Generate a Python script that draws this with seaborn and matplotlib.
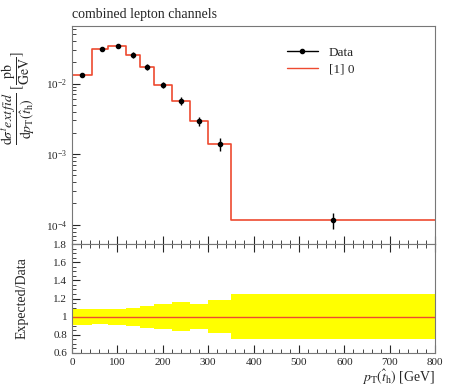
import numpy as np
import matplotlib
matplotlib.use("Agg")
import matplotlib.pyplot as plt
import seaborn as sns
from matplotlib.ticker import MultipleLocator, FixedLocator, LogLocator, NullFormatter

edges = [0, 45, 80, 120, 150, 180, 220, 260, 300, 350, 800]
centers = [22.5, 65, 102, 135, 165, 200, 240, 280, 325, 575]
data_vals = [0.0133, 0.0305, 0.0340, 0.0255, 0.0172, 0.0095, 0.0057, 0.0029, 0.00140, 0.000118]
data_err = [0.0009, 0.0020, 0.0024, 0.0022, 0.0018, 0.0010, 0.0007, 0.0004, 0.00028, 0.000030]
mc_vals = [0.0133, 0.0305, 0.0340, 0.0255, 0.0172, 0.0095, 0.0057, 0.0029, 0.00140, 0.000118]
band_up = [1.09, 1.08, 1.09, 1.10, 1.12, 1.135, 1.16, 1.14, 1.185, 1.245]
band_dn = [0.91, 0.92, 0.91, 0.895, 0.875, 0.865, 0.845, 0.86, 0.815, 0.755]

sns.set_style("ticks")
plt.rcParams["font.family"] = ["Liberation Serif", "DejaVu Serif"]
plt.rcParams["mathtext.fontset"] = "stix"

fig = plt.figure(figsize=(4.5, 3.9), dpi=100)
ax = fig.add_axes([0.16, 0.374, 0.807, 0.559])
axr = fig.add_axes([0.16, 0.095, 0.807, 0.279], sharex=ax)

red = "#ee4a30"

# main step histogram
sns.histplot(x=centers, weights=mc_vals, bins=edges, element="step", fill=False,
             color=red, linewidth=1.2, ax=ax, legend=False)
ax.set_yscale("log")
ax.errorbar(centers, data_vals, yerr=data_err, fmt="o", color="black", ms=3.0,
            elinewidth=1.0, capsize=0, zorder=5)
ax.set_xlim(0, 800)
ax.set_ylim(5.3e-5, 0.065)
ax.set_ylabel(r"$\dfrac{\mathrm{d}\sigma^{t}ext\,fid}{\mathrm{d}p_{\mathrm{T}}(\hat{t}_{\mathrm{h}})}\ [\dfrac{\mathrm{pb}}{\mathrm{GeV}}]$",
              fontsize=10, labelpad=2)
ax.set_xlabel("")
ax.yaxis.set_major_locator(LogLocator(base=10, numticks=10))
ax.yaxis.set_minor_locator(LogLocator(base=10, subs=np.arange(2, 10), numticks=20))
ax.yaxis.set_minor_formatter(NullFormatter())
plt.setp(ax.get_xticklabels(), visible=False)
ax.set_title("combined lepton channels", loc="left", fontsize=10, pad=6)

# legend handles
h1 = ax.plot([], [], color="black", marker="o", ms=3.0, lw=1.0, label="Data")[0]
h2 = ax.plot([], [], color=red, lw=1.0, label="[1] 0")[0]
ax.legend(handles=[h1, h2], loc="upper right", bbox_to_anchor=(0.81, 0.96),
          frameon=False, fontsize=9.5, handlelength=2.4, labelspacing=0.3)

# ratio panel
e = np.array(edges, dtype=float)
up = np.append(band_up, band_up[-1])
dn = np.append(band_dn, band_dn[-1])
axr.fill_between(e, dn, up, step="post", color="#ffff00", linewidth=0)
axr.axhline(1.0, color=red, lw=1.0)
axr.set_ylim(0.6, 1.8)
axr.yaxis.set_major_locator(FixedLocator([0.6, 0.8, 1.0, 1.2, 1.4, 1.6, 1.8]))
axr.set_yticklabels(["0.6", "0.8", "1", "1.2", "1.4", "1.6", "1.8"])
axr.yaxis.set_minor_locator(MultipleLocator(0.05))
axr.set_ylabel("Expected/Data", fontsize=10)
axr.xaxis.set_major_locator(MultipleLocator(100))
axr.xaxis.set_minor_locator(MultipleLocator(20))
axr.set_xlabel(r"$p_{\mathrm{T}}(\hat{t}_{\mathrm{h}})$ [GeV]", fontsize=10, loc="right", labelpad=1)

ax.tick_params(which="both", direction="in", top=False, bottom=True, right=False, labelsize=8)
axr.tick_params(which="both", direction="in", top=True, right=False, labelsize=8)
for a in (ax, axr):
    a.tick_params(which="major", length=6)
    a.tick_params(which="minor", length=3)
    for s in a.spines.values():
        s.set_color("#777777")
        s.set_linewidth(0.8)
        s.set_visible(True)

ax.yaxis.set_label_coords(-0.095, 0.67)
axr.yaxis.set_label_coords(-0.12, 0.5)

fig.savefig("out.png", dpi=100)
